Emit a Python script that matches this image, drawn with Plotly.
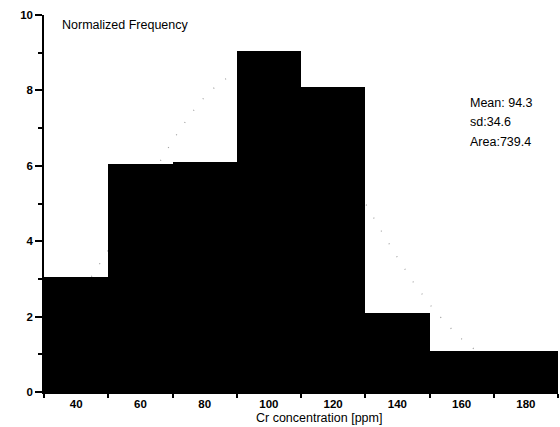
import plotly.graph_objects as go

# Histogram bins (centers, ppm) and normalized frequency
bin_centers = [40, 60, 80, 100, 120, 140, 160, 180]
bin_width = 20
frequency = [3.05, 6.05, 6.1, 9.05, 8.1, 2.1, 1.1, 1.1]

# Fitted normal curve points
fit_x = [30, 35, 40, 45, 50, 55, 60, 65, 70, 75, 80, 85, 90, 95, 100, 105, 110,
         115, 120, 125, 130, 135, 140, 145, 150, 155, 160, 165, 170, 175, 180, 185, 190]
fit_y = [1.52, 1.96, 2.49, 3.09, 3.76, 4.47, 5.22, 5.96, 6.66, 7.30, 7.83, 8.23, 8.46,
         8.53, 8.41, 8.13, 7.69, 7.13, 6.47, 5.75, 5.01, 4.27, 3.57, 2.91, 2.33, 1.83,
         1.41, 1.06, 0.78, 0.56, 0.40, 0.27, 0.19]

x_tick_vals = [40, 60, 80, 100, 120, 140, 160, 180]
x_tick_text = ["40", "60", "80", "100", "120", "140", "160", "180"]
y_tick_vals = [0, 2, 4, 6, 8, 10]

stats_lines = ["Mean: 94.3", "sd:34.6", "Area:739.4"]
y_title = "Normalized Frequency"
x_title = "Cr concentration [ppm]"

FONT = "Liberation Sans, Arial, sans-serif"

fig = go.Figure()

fig.add_trace(go.Scatter(
    x=fit_x, y=fit_y, mode="lines",
    line=dict(color="#a0a0a0", width=1.2, dash="1px,14px"),
    xaxis="x", yaxis="y", showlegend=False, hoverinfo="skip",
))

fig.add_trace(go.Bar(
    x=bin_centers, y=frequency, width=[bin_width] * len(bin_centers),
    marker=dict(color="black", line=dict(width=0)),
    xaxis="x2", yaxis="y2", showlegend=False,
))

annotations = [
    dict(text=y_title, x=0.031, y=0.973, xref="paper", yref="paper",
         xanchor="left", yanchor="middle", showarrow=False,
         font=dict(size=12.5, family=FONT)),
    dict(text=x_title, x=0.535, y=-0.069, xref="paper", yref="paper",
         xanchor="center", yanchor="middle", showarrow=False,
         font=dict(size=12.5, family=FONT)),
]
for i, line in enumerate(stats_lines):
    annotations.append(dict(
        text=line, x=0.825, y=0.767 - i * 0.0515, xref="paper", yref="paper",
        xanchor="left", yanchor="middle", showarrow=False,
        font=dict(size=12.5, family=FONT)))

fig.update_layout(
    width=560, height=427,
    margin=dict(l=44, r=2, t=15, b=35),
    paper_bgcolor="white", plot_bgcolor="white",
    font=dict(family=FONT, color="black"),
    bargap=0,
    xaxis=dict(
        range=[30, 190], tickvals=x_tick_vals, ticktext=x_tick_text,
        ticks="outside", ticklen=0, showgrid=False, zeroline=False,
        showline=True, linecolor="black", linewidth=1.5,
        tickfont=dict(size=11.5, family=FONT, weight="bold"),
        minor=dict(tick0=30, dtick=20, ticks="outside", ticklen=4, tickcolor="black", tickwidth=1.5),
    ),
    yaxis=dict(
        range=[0, 10], tickvals=y_tick_vals,
        ticks="outside", ticklen=7, tickwidth=1.5, tickcolor="black",
        showgrid=False, zeroline=False,
        showline=True, linecolor="black", linewidth=1.5,
        tickfont=dict(size=11.5, family=FONT, weight="bold"),
        minor=dict(tick0=1, dtick=2, ticks="outside", ticklen=4, tickcolor="black", tickwidth=1.5),
    ),
    xaxis2=dict(range=[30, 190], overlaying="x", visible=False, showgrid=False, zeroline=False),
    yaxis2=dict(range=[0, 10], overlaying="y", visible=False, showgrid=False, zeroline=False),
    annotations=annotations,
)

fig.write_html("out.html")
